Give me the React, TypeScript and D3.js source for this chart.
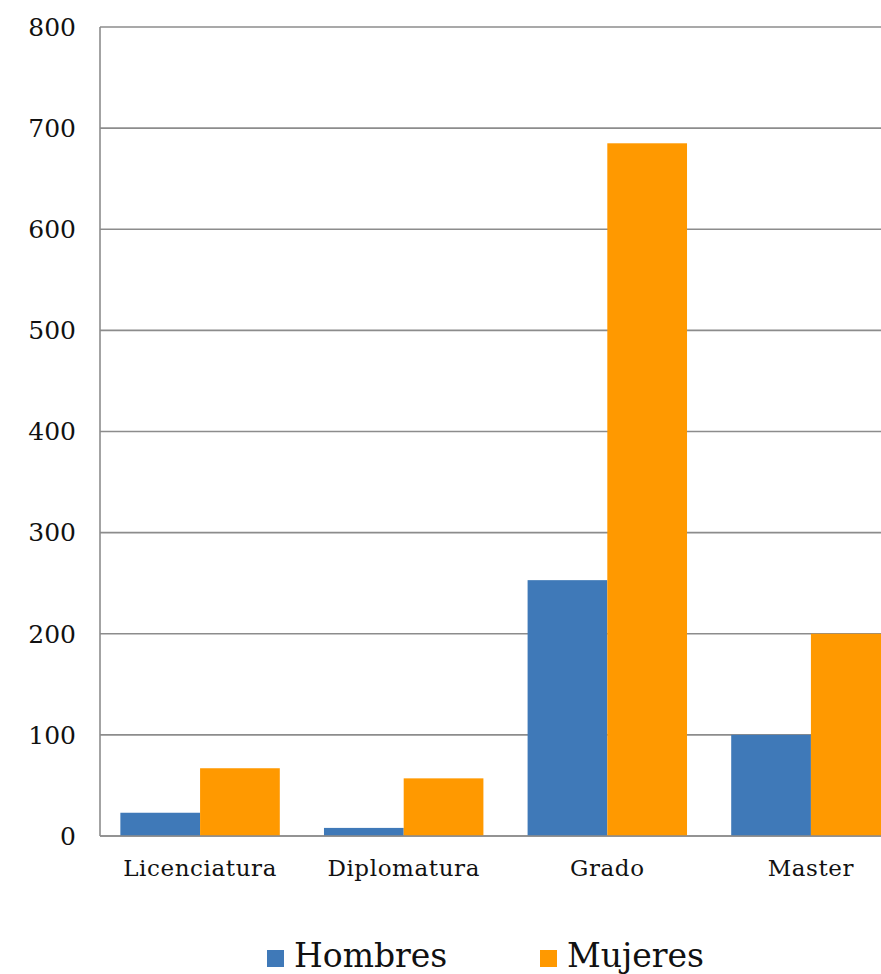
import React from "react";
import * as d3 from "d3";

const categories = ["Licenciatura", "Diplomatura", "Grado", "Master"];
const seriesNames = ["Hombres", "Mujeres"];
const hombres = [23, 8, 253, 100];
const mujeres = [67, 57, 685, 200];
const yTicks = [0, 100, 200, 300, 400, 500, 600, 700, 800];
const colors = ["#3f79b8", "#ff9900"];

export default function App() {
  const W = 881;
  const H = 974;
  const left = 100;
  const plotRight = 911;
  const top = 27;
  const bottom = 836;
  const font = "'DejaVu Serif', 'Liberation Serif', serif";

  const x = d3.scaleBand<string>().domain(categories).range([left, plotRight]).paddingInner(0.217).paddingOuter(0.1);
  const xs = d3.scaleBand<string>().domain(seriesNames).range([0, x.bandwidth()]);
  const y = d3.scaleLinear().domain([0, 800]).range([bottom, top]);
  const series = [hombres, mujeres];

  return (
    <svg width={W} height={H} style={{ position: "absolute", left: 0, top: 0, background: "#fff" }}>
      {yTicks.map((t) => (
        <g key={t}>
          <line x1={left} x2={W} y1={y(t)} y2={y(t)} stroke="#8c8c8c" strokeWidth={1.6} />
          <text x={76} y={y(t)} dy="0.35em" textAnchor="end" fontFamily={font} fontSize={25} fill="#111">{t}</text>
        </g>
      ))}
      <line x1={left} x2={left} y1={top} y2={bottom} stroke="#8c8c8c" strokeWidth={1.6} />
      {categories.map((c, i) => (
        <g key={c}>
          {series.map((s, j) => (
            <rect key={j} x={(x(c) as number) + (xs(seriesNames[j]) as number)} y={y(s[i])} width={xs.bandwidth()} height={bottom - y(s[i])} fill={colors[j]} />
          ))}
          <text x={(x(c) as number) + x.bandwidth() / 2} y={876} textAnchor="middle" fontFamily={font} fontSize={23} letterSpacing={0.6} fill="#111">{c}</text>
        </g>
      ))}
      <line x1={left} x2={W} y1={bottom} y2={bottom} stroke="#8c8c8c" strokeWidth={1.6} />
      {seriesNames.map((n, j) => (
        <g key={n} transform={`translate(${[267, 540][j]},0)`}>
          <rect x={0} y={950} width={17} height={17} fill={colors[j]} />
          <text x={27} y={967} fontFamily={font} fontSize={33} fill="#111">{n}</text>
        </g>
      ))}
    </svg>
  );
}
